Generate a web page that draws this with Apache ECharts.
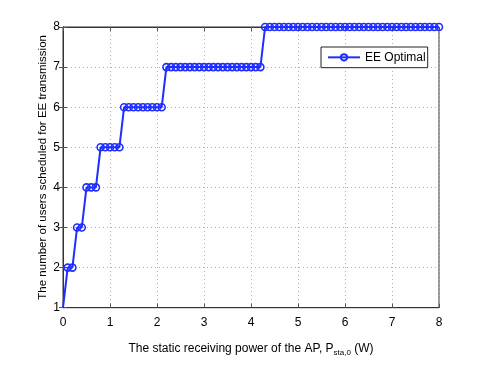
<!doctype html>
<html>
<head>
  <title>EE optimal users</title>
  <script src="https://cdn.jsdelivr.net/npm/echarts@6/dist/echarts.min.js"></script>
  <style>
    html, body { margin: 0; padding: 0; background: #fff; }
    #main { width: 485px; height: 365px; }
  </style>
</head>
<body>
<div id="main"></div>
<script>
// static receiving power P_sta,0 (W)
var powerW = [
  0.0, 0.1, 0.2, 0.3, 0.4, 0.5, 0.6, 0.7, 0.8, 0.9,
  1.0, 1.1, 1.2, 1.3, 1.4, 1.5, 1.6, 1.7, 1.8, 1.9,
  2.0, 2.1, 2.2, 2.3, 2.4, 2.5, 2.6, 2.7, 2.8, 2.9,
  3.0, 3.1, 3.2, 3.3, 3.4, 3.5, 3.6, 3.7, 3.8, 3.9,
  4.0, 4.1, 4.2, 4.3, 4.4, 4.5, 4.6, 4.7, 4.8, 4.9,
  5.0, 5.1, 5.2, 5.3, 5.4, 5.5, 5.6, 5.7, 5.8, 5.9,
  6.0, 6.1, 6.2, 6.3, 6.4, 6.5, 6.6, 6.7, 6.8, 6.9,
  7.0, 7.1, 7.2, 7.3, 7.4, 7.5, 7.6, 7.7, 7.8, 7.9,
  8.0
];
// number of scheduled users, EE optimal
var usersEE = [
  1, 2, 2, 3, 3, 4, 4, 4, 5, 5,
  5, 5, 5, 6, 6, 6, 6, 6, 6, 6,
  6, 6, 7, 7, 7, 7, 7, 7, 7, 7,
  7, 7, 7, 7, 7, 7, 7, 7, 7, 7,
  7, 7, 7, 8, 8, 8, 8, 8, 8, 8,
  8, 8, 8, 8, 8, 8, 8, 8, 8, 8,
  8, 8, 8, 8, 8, 8, 8, 8, 8, 8,
  8, 8, 8, 8, 8, 8, 8, 8, 8, 8,
  8
];
var xTicks = [0, 1, 2, 3, 4, 5, 6, 7, 8];
var yTicks = [1, 2, 3, 4, 5, 6, 7, 8];

var blue = '#1f2eff';
var font = 'Liberation Sans';

var pts = powerW.map(function (x, i) {
  var p = { value: [x, usersEE[i]] };
  if (i === 0) p.symbol = 'none';
  return p;
});

var split = { show: true, lineStyle: { color: '#b0b0b0', type: [1, 3], width: 1 } };

var myChart = echarts.init(document.getElementById('main'));
var option = {
  animation: false,
  textStyle: { fontFamily: font },
  grid: { left: 63, right: 46, top: 27, bottom: 42, show: true, borderColor: '#333', borderWidth: 1 },
  legend: {
    data: ['EE Optimal'],
    left: 321, top: 47,
    padding: [0, 2, 0, 6],
    itemWidth: 32, itemHeight: 8, itemGap: 0,
    borderColor: '#222', borderWidth: 1, borderRadius: 0,
    backgroundColor: '#fff',
    textStyle: { fontFamily: font, fontSize: 12, lineHeight: 14, color: '#000' }
  },
  xAxis: [{
    type: 'value', min: xTicks[0], max: xTicks[xTicks.length - 1], interval: 1,
    name: 'The static receiving power of the AP, P{sub|sta,0} (W)',
    nameLocation: 'middle', nameGap: 18,
    nameTextStyle: {
      fontFamily: font, fontSize: 12, color: '#000',
      rich: { sub: { fontFamily: font, fontSize: 8, color: '#000', padding: [9, 0, 0, 0] } }
    },
    axisLine: { show: true, lineStyle: { color: '#333' } },
    axisTick: { inside: true, length: 4, lineStyle: { color: '#555' } },
    axisLabel: { fontFamily: font, fontSize: 12, color: '#000', margin: 5 },
    splitLine: split
  }, {
    type: 'value', position: 'top', min: 0, max: 8, interval: 1,
    axisLine: { show: true, lineStyle: { color: '#333' } },
    axisTick: { inside: true, length: 4, lineStyle: { color: '#555' } },
    axisLabel: { show: false }, splitLine: { show: false }
  }],
  yAxis: [{
    type: 'value', min: yTicks[0], max: yTicks[yTicks.length - 1], interval: 1,
    name: 'The number of users scheduled for EE transmission',
    nameLocation: 'middle', nameGap: 10, nameMoveOverlap: false,
    nameTextStyle: { fontFamily: font, fontSize: 11.5, color: '#000' },
    axisLine: { show: true, lineStyle: { color: '#333' } },
    axisTick: { inside: true, length: 4, lineStyle: { color: '#555' } },
    axisLabel: { fontFamily: font, fontSize: 12, color: '#000', margin: 3 },
    splitLine: split
  }, {
    type: 'value', position: 'right', min: 1, max: 8, interval: 1,
    axisLine: { show: true, lineStyle: { color: '#333' } },
    axisTick: { inside: true, length: 4, lineStyle: { color: '#555' } },
    axisLabel: { show: false }, splitLine: { show: false }
  }],
  series: [{
    name: 'EE Optimal',
    type: 'line',
    data: pts,
    clip: false,
    symbol: 'circle',
    symbolSize: 7,
    showAllSymbol: true,
    lineStyle: { color: blue, width: 2 },
    itemStyle: { color: 'rgba(255,255,255,0)', borderColor: blue, borderWidth: 1.6 },
    emphasis: { disabled: true }
  }]
};
myChart.setOption(option);
</script>
</body>
</html>
